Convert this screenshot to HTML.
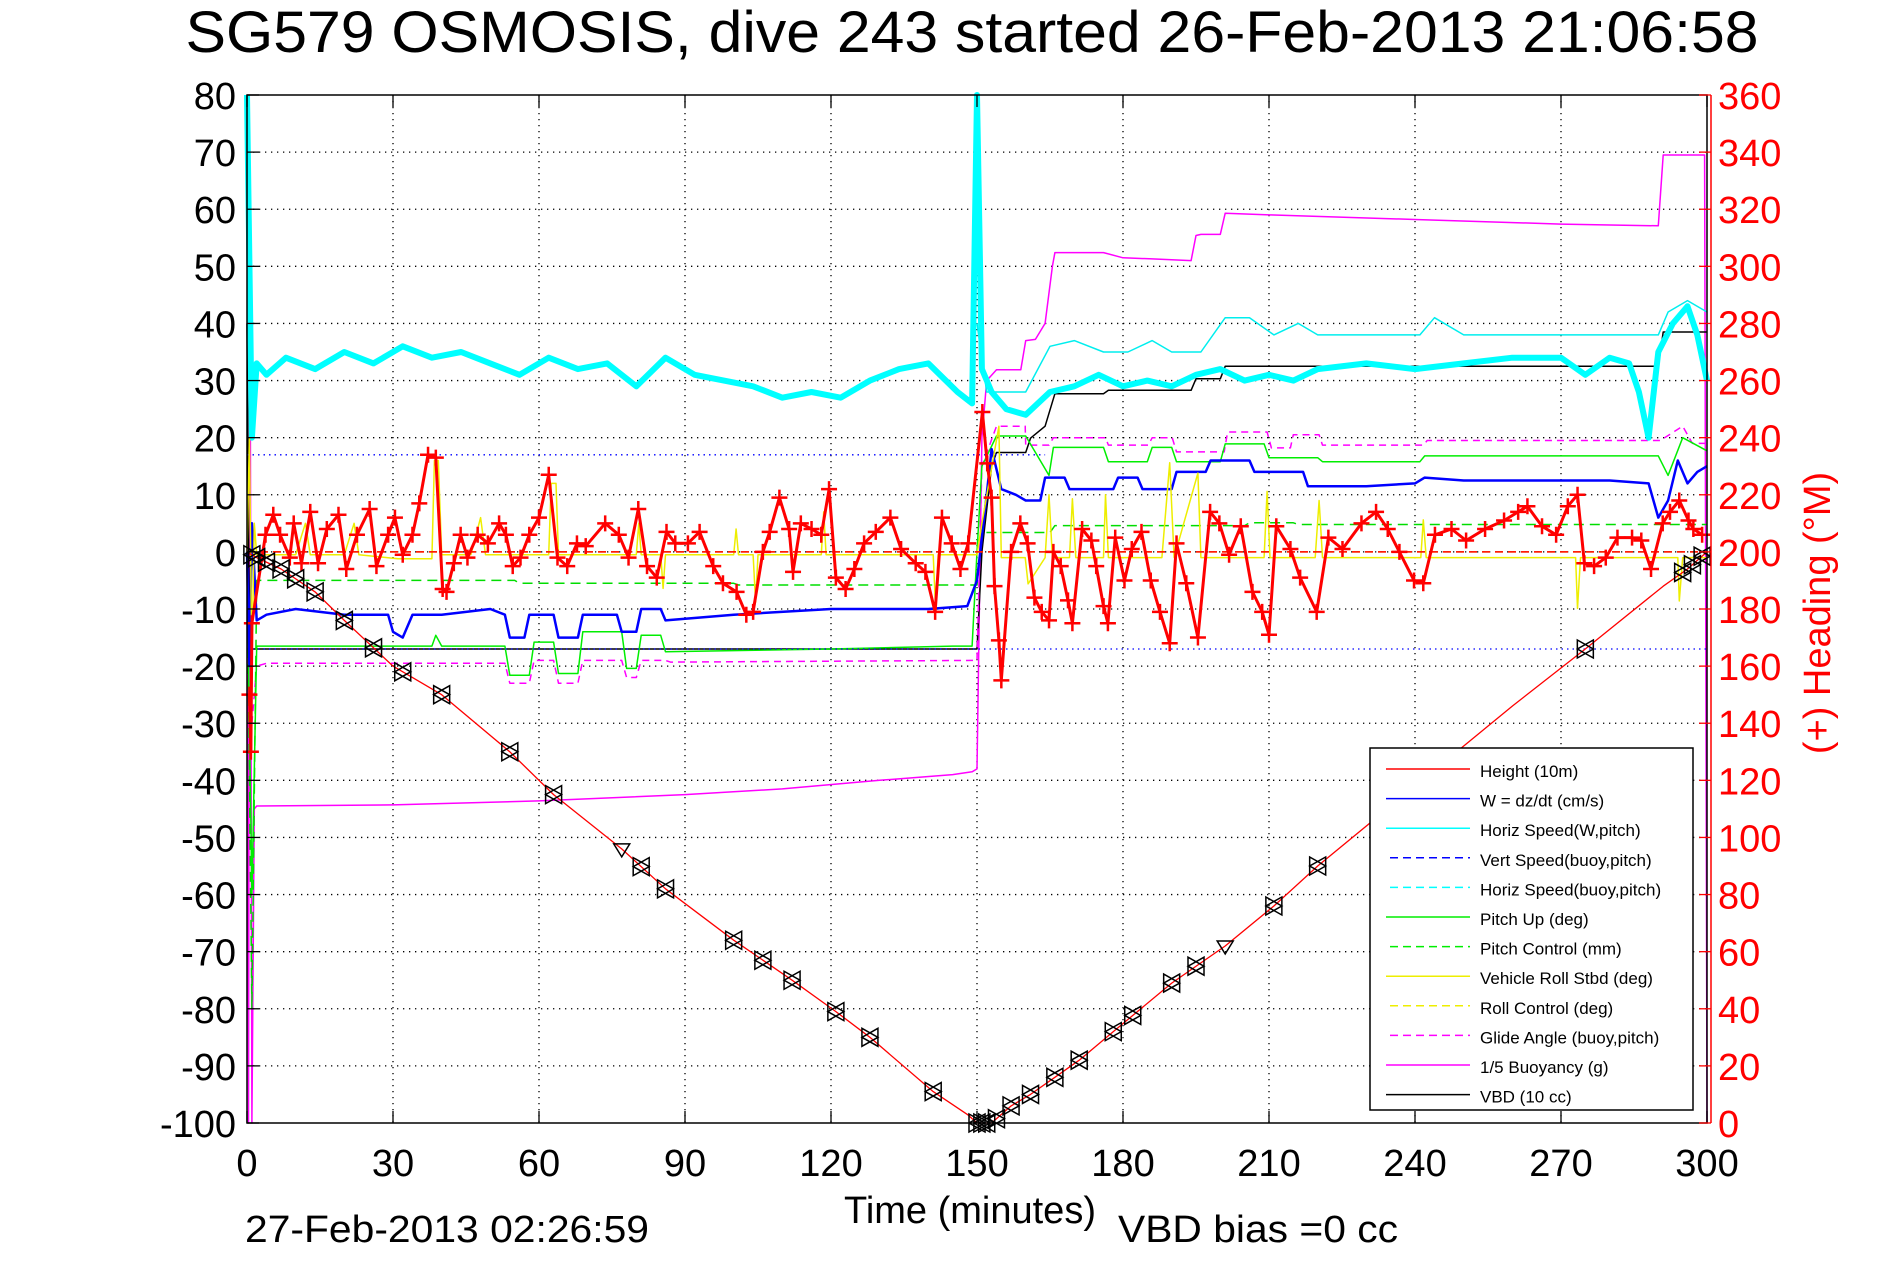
<!DOCTYPE html>
<html><head><meta charset="utf-8"><style>
html,body{margin:0;padding:0;background:#fff;}
svg{display:block;font-family:"Liberation Sans",Arial,sans-serif;}
</style></head><body>
<svg id="chart" xmlns="http://www.w3.org/2000/svg" width="1891" height="1262" viewBox="0 0 1891 1262">
<rect x="0" y="0" width="1891" height="1262" fill="#fff"/>
<text x="972" y="52" font-size="58" text-anchor="middle" textLength="1573" lengthAdjust="spacingAndGlyphs">SG579 OSMOSIS, dive 243 started 26-Feb-2013 21:06:58</text>
<g id="grid"></g>
<g id="series"></g>
<g id="axes"></g>
<text x="970" y="1223" font-size="38" text-anchor="middle">Time (minutes)</text>
<text x="245" y="1242" font-size="38" textLength="404" lengthAdjust="spacingAndGlyphs">27-Feb-2013 02:26:59</text>
<text x="1118" y="1242" font-size="38" textLength="280" lengthAdjust="spacingAndGlyphs">VBD bias =0 cc</text>
<text transform="translate(1830,613) rotate(-90)" font-size="38" fill="#f00" text-anchor="middle">(+) Heading (°M)</text>
<g id="legend"></g>
</svg>
<script>
// ---- data ----
const xTicks = [0,30,60,90,120,150,180,210,240,270,300];
const yTicks = [80,70,60,50,40,30,20,10,0,-10,-20,-30,-40,-50,-60,-70,-80,-90,-100];
const hTicks = [360,340,320,300,280,260,240,220,200,180,160,140,120,100,80,60,40,20,0];

const heightT = [0,2,7,14,20,30,40,54,63,77,86,100,112,121,128,141,148,150,152,153,157,161,166,171,178,190,201,211,220,240,260,275,291,296,300];
const heightV = [0,-1,-3,-7,-12,-20,-25,-35,-42.5,-52,-59,-68,-75,-80.5,-85,-94.5,-98.5,-100,-100,-100,-97,-95,-92,-89,-84,-75.5,-69,-62,-55,-41,-27,-17,-6,-3,0];
const markerT = [1,2,4,7,10,14,20,26,32,40,54,63,81,86,100,106,112,121,128,141,150,151,152,154,157,161,166,171,178,182,190,195,211,220,275,295,297,299];
const triT = [77,201];

const wT = [0,0.5,1,2,4,10,20,29,30,32,34,40,50,53,54,57,58,63,64,68,69,76,77,80,81,85,86,100,120,140,148,150,152,153,155,158,160,163,164,168,169,178,179,183,184,190,191,197,198,206,207,217,218,230,240,242,250,260,270,280,288,290,292,294,296,298,300];
const wV = [0,-20,5,-12,-11,-10,-11,-11,-14,-15,-11,-11,-10,-11,-15,-15,-11,-11,-15,-15,-11,-11,-14,-14,-10,-10,-12,-11,-10,-10,-9.5,-5,10,18,11,10,9,9,13,13,11,11,13,13,11,11,14,14,16,16,14,14,11.5,11.5,12,13,12.5,12.5,12.5,12.5,12,6,9,16,12,14,15];

const hsT = [0,1,2,4,8,14,20,26,32,38,44,50,56,62,68,74,80,86,92,98,104,110,116,122,128,134,140,146,149,150,151,153,156,160,165,170,175,180,185,190,195,200,205,210,215,220,230,240,250,260,270,275,280,284,286,288,290,293,296,298,300];
const hsV = [80,20,33,31,34,32,35,33,36,34,35,33,31,34,32,33,29,34,31,30,29,27,28,27,30,32,33,28,26,80,32,28,25,24,28,29,31,29,30,29,31,32,30,31,30,32,33,32,33,34,34,31,34,33,28,20,35,40,43,38,30];

const vsUpT = [0,164];
const vsUpV = [17,17];
const vsDnT = [0,300];
const vsDnV = [-17,-17];

const hbT = [150,152,156,160,165,170,176,181,186,190,196,201,206,211,216,220,230,241,244,250,260,270,280,290,292,296,300];
const hbV = [40,28,28,28,36,37,35,35,37,35,35,41,41,38,40,38,38,38,41,38,38,38,38,38,42,44,42];

const pitchT = [0,1,2,30,38,38.8,40,53,54,58,59,63,64,68,69,77,78,80,81,85,86,120,145,149,150,151,154,160,164.8,165.7,176,177,185,186,190,191,200,201,209,210,220,221,241,242,290,292,295,300];
const pitchV = [0,-60,-16.5,-16.5,-16.5,-14.6,-16.5,-16.5,-21.6,-21.6,-15.8,-15.8,-21.3,-21.3,-14,-14,-20.4,-20.4,-14.6,-14.6,-17.5,-17,-16.5,-16.5,0,15,20.3,20.3,13.4,18.3,18.3,15.8,15.8,18.3,18.3,15.8,15.8,18.9,18.9,16.5,16.5,15.8,15.8,16.8,16.8,13.4,20,17.7];

const pcT = [0,1,2,55,56,100,101,150,151,165,166,205,206,215,216,300];
const pcV = [0,-80,-5,-5,-5.5,-5.5,-5.8,-5.8,3.4,3.4,4.6,4.6,5.1,5.1,4.8,4.8];

const rollT = [0,0.5,1,1.5,2,10,12,13,20,22,23,31,38,38.5,39.3,40,46,48,49,62,62.5,63.5,64,80,80.5,81,85,85.5,86,100,100.5,101,104,104.5,105,118,118.5,119,141,141.5,142,150,151,154.5,155,159.9,160.5,164,164.8,165.5,169,169.6,170.3,176,176.4,177,188,189.6,190.5,195.4,196,209,209.6,210.2,219.5,220.3,221,241.2,241.7,242.3,273,273.4,274,294,294.3,295,300];
const rollV = [0,20,-20,5,-0.5,-0.5,5,-0.5,-0.5,5,-0.5,-1.2,-1.2,16,16,-0.5,-0.5,6,-0.5,-0.5,12,12,-0.5,-0.5,5,-0.5,-0.5,-6.4,-0.5,-0.5,4,-0.5,-0.5,-8.8,-0.5,-0.5,7,-0.5,-0.5,-10,-0.5,-0.5,5,22,-1,-1,-5.6,-1,10,-1,-1,9.3,-1,-1,10,-1,-1,15.6,-1,13.8,-1,-1,10.6,-1,-1,9,-1,-1,5.6,-1,-1,-9.9,-1,-1,-8.6,-1,-1];

const rcT = [0,300];
const rcV = [0,0];

const glideT = [1,2,4,53,54,58,59,63,64,68,69,77,78,80,81,86,87,150,151,154,159.9,160,164.8,165.7,176.4,177,185.2,186,190.1,191,200.8,201.5,209.6,210.5,214.4,215,220.3,221,241.7,242.5,290.4,295,297,300];
const glideV = [-30,-20,-19.5,-19.5,-23,-23,-19,-19,-23,-23,-19,-19,-22,-22,-19,-19,-19.3,-19,15,22,22,18.7,18.7,20,20,18.7,18.7,20,20,17.5,17.5,21,21,18.2,18.2,20.5,20.5,18.7,18.7,19.5,19.5,22,19,19];

const buoyT = [0,0.3,0.6,1,1.5,2,30,60,90,110,130,145,149,150,151,152,154,159,160,162,164,165.5,166,176,180,186,194,195,196,200,201,210,240,270,290,291,292,299.5,300];
const buoyV = [80,-100,60,-100,-45,-44.5,-44.3,-43.6,-42.5,-41.5,-40,-39,-38.5,-38,20,30,31.9,31.9,37,37.2,40,50,52.4,52.4,51.5,51.3,51,55.4,55.6,55.6,59.3,59,58.2,57.4,57.1,69.5,69.5,69.5,-100];

const vbdT = [0,0.5,1,2,150,151,153,154,160,161,164,166,176,177,194,195,200,201,290,291,300];
const vbdV = [40,-17,-17,-17,-17,0,15,17.4,17.4,19.9,22,27.7,27.7,28.3,28.3,30.3,30.3,32.5,32.5,38.5,38.5];

const headT = [0.5,0.8,1,3.8,5.4,6.8,8.8,9.6,11.2,13,14.6,16.4,18.8,20.4,22.6,25.2,26.6,29,30.4,32,34,35.4,37.2,38.8,40.2,41,42.5,43.9,45.3,47.4,49.5,51.8,53.2,54.6,56.2,58,60,62,63.8,65.8,67.8,69.6,73.6,76.4,78.4,80.4,82.2,84.2,86.2,88,90.6,93,95.8,97.8,100.6,102.6,104,106,107.4,109.4,111.4,112.2,113.8,116,118,119.6,121,123,124.8,126.8,129.2,132.2,134.4,137.4,139.4,141.4,142.8,144.8,146.6,148.2,151.1,152.1,153,153.6,154.5,155,157,158.9,160.4,161.8,163.3,164.8,165.7,167.2,168.7,169.6,171.6,173.5,174.5,176,176.9,178.4,180.3,181.8,183.8,185.7,187.6,189.6,191,193,195.4,197.9,199.8,201.8,204.2,206.6,208.6,210,211.5,214.4,216.4,219.8,222.2,225.1,229,232,234.4,236.8,239.8,241.7,244.1,247.5,250.5,254.4,258.3,261.2,263.1,266.1,269,271.4,273.4,274.8,276.8,279.2,281.6,284.6,286.5,288.5,290.9,292.4,294.3,296.2,297.2,299];
const headV = [150,130,175,206,213,206,198,210,196,214,196,208,213,194,206,215,195,206,212,199,206,217,234,233,187,186,196,206,198,206,203,210,206,195,198,206,212,227,198,195,203,202,210,206,198,215,195,191,207,203,203,207,195,189,186,178,179,200,207,219,208,193,210,208,206,222,191,187,194,203,207,212,201,196,193,179,212,203,194,203,249,231,219,188,169,155,200,210,203,184,179,176,200,195,183,175,208,204,195,181,175,205,190,201,207,190,179,168,203,189,170,214,210,199,209,186,179,171,209,201,191,179,205,201,210,214,208,200,190,189,206,208,204,208,211,214,216,209,206,216,220,196,195,198,205,205,204,194,210,214,218,211,208,206];

// ---- scales ----
const L = 247, R = 1707, T = 95, B = 1123;
const X = t => L + (t / 300) * (R - L);
const Y = v => T + ((80 - v) / 180) * (B - T);
const YH = h => T + ((360 - h) / 360) * (B - T);
const NS = 'http://www.w3.org/2000/svg';
function mk(tag, attrs, parent) {
  const e = document.createElementNS(NS, tag);
  for (const k in attrs) e.setAttribute(k, attrs[k]);
  parent.appendChild(e);
  return e;
}
const grid = document.getElementById('grid');
const series = document.getElementById('series');
const axes = document.getElementById('axes');
const legend = document.getElementById('legend');

xTicks.forEach(t => {
  if (t === 0 || t === 300) return;
  const g = mk('line', {x1: X(t), x2: X(t), y1: T, y2: B, stroke: '#000', 'stroke-width': 1.3, 'stroke-dasharray': '1.3,4.7'}, grid);
  
  
});
yTicks.forEach(v => {
  if (v === 80 || v === -100) return;
  const g = mk('line', {x1: L, x2: R, y1: Y(v), y2: Y(v), stroke: '#000', 'stroke-width': 1.3, 'stroke-dasharray': '1.3,4.7'}, grid);
  
  
});

function line(ts, vs, color, w, dash, name, yf) {
  const f = yf || Y;
  const pts = ts.map((t, i) => X(t).toFixed(1) + ',' + f(vs[i]).toFixed(1)).join(' ');
  const a = {points: pts, fill: 'none', stroke: color, 'stroke-width': w, 'stroke-linejoin': 'round'};
  if (dash) a['stroke-dasharray'] = dash;
  const p = mk('polyline', a, series);
  
  
  return p;
}
function interp(ts, vs, t) {
  for (let i = 1; i < ts.length; i++) {
    if (t <= ts[i]) { const f = (t - ts[i-1]) / (ts[i] - ts[i-1]); return vs[i-1] + f * (vs[i] - vs[i-1]); }
  }
  return vs[vs.length - 1];
}

line(buoyT, buoyV, '#f0f', 1.5, null, 'buoyancy-line');
line(vbdT, vbdV, '#000', 1.5, null, 'vbd-line');
line(glideT, glideV, '#f0f', 1.5, '7,5', 'glide-angle-line');
line(pcT, pcV, '#0d0', 1.5, '10,6', 'pitch-control-line');
line(pitchT, pitchV, '#0e0', 1.5, null, 'pitch-line');
line(vsUpT, vsUpV, '#00f', 1.3, '1.5,4', 'vert-speed-line-upper');
line(vsDnT, vsDnV, '#00f', 1.3, '1.5,4', 'vert-speed-line-lower');
line(wT, wV, '#00f', 2.5, null, 'w-line');
line(hbT, hbV, '#0ee', 1.5, null, 'horiz-speed-buoy-line');
line(hsT, hsV, '#0ff', 6, null, 'horiz-speed-line');
line(rcT, rcV, '#ee0', 1.5, '8,5', 'roll-control-line');
line(rollT, rollV, '#ee0', 1.5, null, 'roll-line');
line([0,300], [0,0], '#f00', 1.5, '8,5', 'heading-desired-line');

// heading trail + markers
line(headT, headV, '#f00', 3, null, 'heading-trail', YH);
headT.forEach((t, i) => {
  const x = X(t), y = YH(headV[i]);
  const p = mk('path', {d: `M${x-8},${y}H${x+8}M${x},${y-8}V${y+8}`, stroke: '#f00', 'stroke-width': 2.5, fill: 'none'}, series);
  
  
});

line(heightT, heightV, '#f00', 1.3, null, 'height-line');
markerT.forEach(t => {
  const x = X(t), y = Y(interp(heightT, heightV, t));
  const p = mk('path', {d: `M${x-8},${y-9}L${x+8},${y}L${x-8},${y+9}ZM${x+8},${y-9}L${x-8},${y}L${x+8},${y+9}Z`, stroke: '#000', 'stroke-width': 1.5, fill: 'none'}, series);
  
  
});
triT.forEach(t => {
  const x = X(t), y = Y(interp(heightT, heightV, t));
  const p = mk('path', {d: `M${x-8},${y-5}L${x+8},${y-5}L${x},${y+8}Z`, stroke: '#000', 'stroke-width': 1.5, fill: 'none'}, series);
  
  
});

const box = mk('rect', {x: L, y: T, width: R - L, height: B - T, fill: 'none', stroke: '#000', 'stroke-width': 1.5}, axes);


const rAx = mk('line', {x1: 1711, x2: 1711, y1: T, y2: B, stroke: '#f00', 'stroke-width': 1.5}, axes);



xTicks.forEach(t => {
  const tk = mk('path', {d: `M${X(t)},${B}V${B-12}M${X(t)},${T}V${T+12}`, stroke: '#000', 'stroke-width': 1.3}, axes);
  
  
  const lb = mk('text', {x: X(t), y: 1176, 'font-size': 38, 'text-anchor': 'middle'}, axes);
  lb.textContent = t;
  
  
});
yTicks.forEach(v => {
  const tk = mk('path', {d: `M${L},${Y(v)}H${L+12}`, stroke: '#000', 'stroke-width': 1.3}, axes);
  
  
  const lb = mk('text', {x: 236, y: Y(v) + 14, 'font-size': 38, 'text-anchor': 'end'}, axes);
  lb.textContent = v;
  
  
});
hTicks.forEach(h => {
  const tk = mk('path', {d: `M${1711},${YH(h)}H${1699}`, stroke: '#f00', 'stroke-width': 1.3}, axes);
  
  
  const lb = mk('text', {x: 1718, y: YH(h) + 14, 'font-size': 38, fill: '#f00'}, axes);
  lb.textContent = h;
  
  
});

const legLabels = ['Height (10m)','W = dz/dt (cm/s)','Horiz Speed(W,pitch)','Vert Speed(buoy,pitch)','Horiz Speed(buoy,pitch)','Pitch Up (deg)','Pitch Control (mm)','Vehicle Roll Stbd (deg)','Roll Control (deg)','Glide Angle (buoy,pitch)','1/5 Buoyancy (g)','VBD (10 cc)'];
const legColors = ['#f00','#00f','#0ff','#00f','#0ff','#0e0','#0e0','#ee0','#ee0','#f0f','#f0f','#000'];
const legDash = [0,0,0,1,1,0,1,0,1,1,0,0];
const lb = mk('rect', {x: 1370, y: 748, width: 323, height: 362, fill: '#fff', stroke: '#000', 'stroke-width': 1.5}, legend);


legLabels.forEach((s, i) => {
  const y = 771 + i * 29.6;
  const ln = mk('line', {x1: legDash[i] ? 1390 : 1386, x2: 1470, y1: y - 2, y2: y - 2, stroke: legColors[i], 'stroke-width': 1.5}, legend);
  if (legDash[i]) ln.setAttribute('stroke-dasharray', '8,5');
  
  
  const tx = mk('text', {x: 1480, y: y + 6, 'font-size': 17}, legend);
  tx.textContent = s;
  
  
});
</script>
</body></html>
